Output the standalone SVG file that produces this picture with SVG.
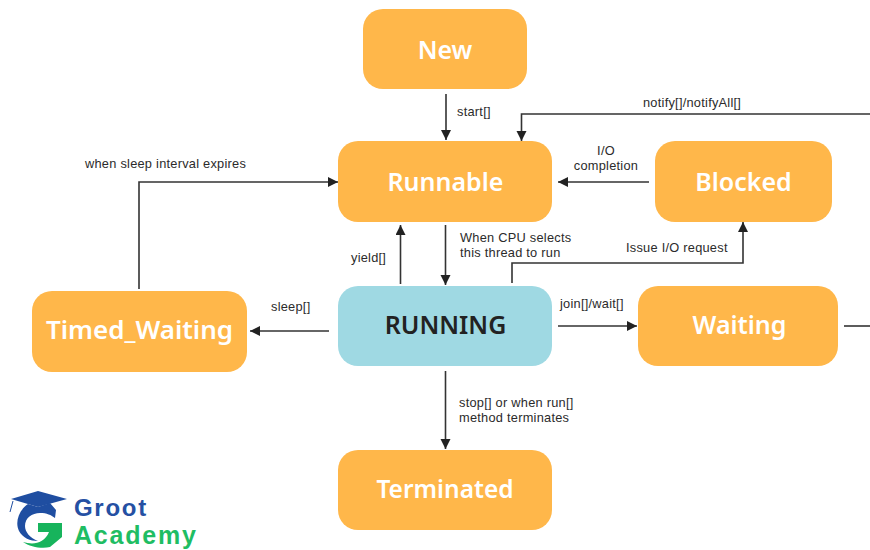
<svg xmlns="http://www.w3.org/2000/svg" width="870" height="550" viewBox="0 0 870 550">
<style>
.n{fill:#ffb74a}
.t{font-family:"Noto Sans","Liberation Sans",sans-serif;font-size:25px;font-weight:600;fill:#fff;text-anchor:middle}
.l{font-family:"Liberation Sans",Arial,sans-serif;font-size:12.800px;letter-spacing:.25px;fill:#2b2b2b}
.c{fill:none;stroke:#333;stroke-width:1.6}
.w{font-family:"Liberation Sans",Arial,sans-serif;font-weight:700}
</style>
<defs><marker id="a" markerUnits="userSpaceOnUse" markerWidth="12" markerHeight="12" refX="10" refY="5" orient="auto"><path d="M0 0L10 5L0 10Z" fill="#222"/></marker></defs>
<rect width="870" height="550" fill="#fff"/>
<g id="connectors">
<path class="c" marker-end="url(#a)" d="M446 94V140"/>
<path class="c" marker-end="url(#a)" d="M870 114H521.500V141"/>
<path class="c" marker-end="url(#a)" d="M649 182H558"/>
<path class="c" marker-end="url(#a)" d="M139 289V182H338"/>
<path class="c" marker-end="url(#a)" d="M400.500 284V225"/>
<path class="c" marker-end="url(#a)" d="M445.500 225V285"/>
<path class="c" marker-end="url(#a)" d="M512 283V263H743V222"/>
<path class="c" marker-end="url(#a)" d="M329 331H250"/>
<path class="c" marker-end="url(#a)" d="M558 326H637"/>
<path class="c" d="M844 326H870"/>
<path class="c" marker-end="url(#a)" d="M445.500 371V449"/>
</g>
<g id="new"><rect class="n" x="363" y="9" width="164" height="80" rx="20"/><text class="t" x="445" y="59">New</text></g>
<g id="runnable"><rect class="n" x="338" y="141" width="214" height="81" rx="20"/><text class="t" x="445.500" y="191">Runnable</text></g>
<g id="blocked"><rect class="n" x="655" y="141" width="177" height="81" rx="20"/><text class="t" x="743.500" y="191">Blocked</text></g>
<g id="running"><rect x="338" y="286" width="214" height="80" rx="20" fill="#9fd9e3"/><text class="t" x="445.500" y="334" style="fill:#222">RUNNING</text></g>
<g id="timed-waiting"><rect class="n" x="32" y="291" width="215" height="81" rx="20"/><text class="t" x="139.500" y="339" style="font-size:26px">Timed_Waiting</text></g>
<g id="waiting"><rect class="n" x="638" y="286" width="200" height="80" rx="20"/><text class="t" x="739.500" y="334">Waiting</text></g>
<g id="terminated"><rect class="n" x="338" y="450" width="214" height="80" rx="20"/><text class="t" x="445" y="498" style="font-size:24.500px">Terminated</text></g>
<g id="labels">
<text class="l" x="457" y="116">start[]</text>
<text class="l" x="643" y="107">notify[]/notifyAll[]</text>
<text class="l" x="606" y="155" text-anchor="middle">I/O</text>
<text class="l" x="606" y="170" text-anchor="middle">completion</text>
<text class="l" x="85" y="168">when sleep interval expires</text>
<text class="l" x="460" y="242">When CPU selects</text>
<text class="l" x="460" y="257">this thread to run</text>
<text class="l" x="351" y="262">yield[]</text>
<text class="l" x="626" y="252">Issue I/O request</text>
<text class="l" x="271" y="311">sleep[]</text>
<text class="l" x="560" y="308">join[]/wait[]</text>
<text class="l" x="459" y="407">stop[] or when run[]</text>
<text class="l" x="459" y="421.500">method terminates</text>
</g>
<g id="logo">
<path d="M11 499L38 491L67 499L38 507Z" fill="#1f4ea1"/>
<path d="M13 501L10 512" fill="none" stroke="#1f4ea1" stroke-width="1"/>
<path d="M28 504C18 511 15 523 19 531C23 538 30 541 38 541C30 538 25 532 25 526C25 518 32 513 40 513C47 513 51 515 55 518L56 510L50 503L38 507Z" fill="#1f4ea1"/>
<path d="M38 523H62V537L50 547C42 549 30 547 23 542C33 545 44 544 49 532H38Z" fill="#17b45c"/>
<text class="w" x="74" y="516" font-size="24" letter-spacing="1.700" fill="#2550a3">Groot</text>
<text class="w" x="74" y="544" font-size="25" letter-spacing="1.800" fill="#1fbd63">Academy</text>
</g>
</svg>
